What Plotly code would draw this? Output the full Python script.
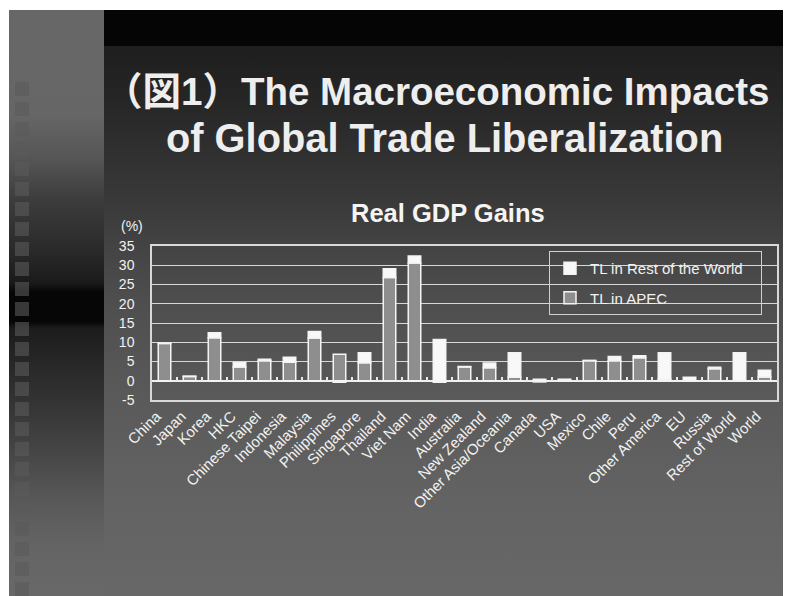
import base64
import plotly.graph_objects as go

# ---------------- data ----------------
categories = ["China", "Japan", "Korea", "HKC", "Chinese Taipei", "Indonesia",
              "Malaysia", "Philippines", "Singapore", "Thailand", "Viet Nam",
              "India", "Australia", "New Zealand", "Other Asia/Oceania",
              "Canada", "USA", "Mexico", "Chile", "Peru", "Other America",
              "EU", "Russia", "Rest of World", "World"]
tl_apec = [9.7, 1.1, 11.2, 3.6, 5.2, 4.8, 11.1, 6.9, 4.7, 26.8, 30.6, -0.4,
           3.6, 3.4, 0.9, 0.4, 0.1, 5.2, 5.2, 6.0, 0.4, -0.1, 3.1, -0.1, 1.0]
tl_row = [0.1, 0.1, 1.3, 1.1, 0.4, 1.3, 1.7, -0.4, 2.6, 2.3, 1.8, 10.7,
          0.1, 1.2, 6.4, -0.3, 0.3, 0.1, 1.1, 0.5, 6.9, 0.9, 0.4, 7.3, 1.7]
series_names = ["TL in APEC", "TL in Rest of the World"]
y_ticks = [-5, 0, 5, 10, 15, 20, 25, 30, 35]

# ---------------- slide background (decorative SVG) ----------------
W, H = 783, 588
ML, MR, MT, MB = 144, 14, 238, 196
PW, PH = W - ML - MR, H - MT - MB

squares = "".join(
    f"<rect x='7' y='{y}' width='14' height='14' fill='#5a5a5a' fill-opacity='0.6'/>"
    for y in range(74, 580, 20)
)
svg = f"""<svg xmlns='http://www.w3.org/2000/svg' width='{W}' height='{H}' viewBox='0 0 {W} {H}'>
<defs>
<linearGradient id='s' x1='0' y1='0' x2='0' y2='1'>
<stop offset='0' stop-color='#676767'/>
<stop offset='0.179' stop-color='#666666'/>
<stop offset='0.256' stop-color='#555555'/>
<stop offset='0.324' stop-color='#3c3c3c'/>
<stop offset='0.41' stop-color='#2a2a2a'/>
<stop offset='0.466' stop-color='#1a1a1a'/>
<stop offset='0.481' stop-color='#060606'/>
<stop offset='0.532' stop-color='#060606'/>
<stop offset='0.543' stop-color='#1c1c1c'/>
<stop offset='0.666' stop-color='#333333'/>
<stop offset='0.751' stop-color='#454545'/>
<stop offset='0.836' stop-color='#585858'/>
<stop offset='0.913' stop-color='#646464'/>
<stop offset='1' stop-color='#686868'/>
</linearGradient>
<linearGradient id='m' x1='0' y1='0' x2='0' y2='1'>
<stop offset='0' stop-color='#1e1e1e'/>
<stop offset='0.098' stop-color='#262626'/>
<stop offset='0.28' stop-color='#393939'/>
<stop offset='0.371' stop-color='#444444'/>
<stop offset='0.462' stop-color='#4e4e4e'/>
<stop offset='0.644' stop-color='#5a5a5a'/>
<stop offset='0.825' stop-color='#636363'/>
<stop offset='1' stop-color='#676767'/>
</linearGradient>
</defs>
<rect x='0' y='0' width='{W}' height='{H}' fill='#ffffff'/>
<rect x='1' y='2' width='95' height='{H-2}' fill='url(#s)'/>
{squares}
<rect x='96' y='2' width='{W-96}' height='36' fill='#050505'/>
<rect x='96' y='38' width='{W-96}' height='{H-38}' fill='url(#m)'/>
</svg>"""
svg_uri = "data:image/svg+xml;base64," + base64.b64encode(svg.encode()).decode()

FONT = "Liberation Sans, Arial, Noto Sans CJK JP, sans-serif"
TXT = "#f2f2f2"
PAD = "\u00a0" * 3  # invisible padding so the legend box is as wide as the original

fig = go.Figure()
fig.add_trace(go.Bar(
    x=categories, y=tl_apec, name=series_names[0], legendgroup="apec",
    legendrank=2,
    marker=dict(color="#8e8e8e", line=dict(color="#f4f4f4", width=1.5)),
))
fig.add_trace(go.Bar(
    x=categories, y=tl_row, name=series_names[1] + PAD, legendgroup="row",
    legendrank=1,
    marker=dict(color="#f8f8f8", line=dict(color="#f4f4f4", width=1.5)),
))
# helper trace for the category tick marks on the zero line
fig.add_trace(go.Bar(x=categories, y=[None] * len(categories), xaxis="x2",
                     showlegend=False, hoverinfo="skip"))


def px_to_paper_x(px):
    return (px - ML) / PW


def px_to_paper_y(py):
    return (H - MB - py) / PH


fig.update_layout(
    width=W, height=H,
    margin=dict(l=ML, r=MR, t=MT, b=MB, pad=0),
    paper_bgcolor="#666666",
    plot_bgcolor="rgba(0,0,0,0)",
    barmode="relative",
    bargap=0.5,
    font=dict(family=FONT, size=14, color=TXT),
    showlegend=True,
    legend=dict(
        x=px_to_paper_x(541), y=px_to_paper_y(243),
        xanchor="left", yanchor="top",
        bgcolor="rgba(0,0,0,0)", bordercolor="#d0d0d0", borderwidth=1,
        traceorder="grouped", tracegroupgap=7,
        font=dict(family=FONT, size=15, color=TXT),
    ),
    xaxis=dict(
        type="category", tickangle=-45,
        showgrid=False, showline=True, linecolor="#d8d8d8", linewidth=1.5,
        mirror=True, ticks="", tickfont=dict(size=15, color=TXT),
        ticklabelstandoff=0, ticklabelshift=-8,
    ),
    xaxis2=dict(
        type="category", overlaying="x", anchor="free", position=5 / 40,
        ticks="inside", tickson="boundaries", ticklen=4, tickwidth=1.5,
        tickcolor="#e8e8e8", showticklabels=False, showline=False,
        showgrid=False, matches="x",
    ),
    yaxis=dict(
        range=[-5, 35], tickvals=y_ticks, ticktext=[str(v) for v in y_ticks],
        showgrid=True, gridcolor="#d8d8d8", gridwidth=1.2,
        zeroline=True, zerolinecolor="#f0f0f0", zerolinewidth=1.5,
        showline=True, linecolor="#d8d8d8", linewidth=1.5, mirror=True,
        ticks="", tickfont=dict(size=14, color=TXT), ticklabelstandoff=13,
    ),
    images=[dict(
        source=svg_uri, xref="paper", yref="paper",
        x=px_to_paper_x(0), y=px_to_paper_y(0),
        sizex=W / PW, sizey=H / PH,
        xanchor="left", yanchor="top", sizing="stretch", layer="below",
    )],
    annotations=[
        dict(text="<b>（図1）The Macroeconomic Impacts</b>",
             xref="paper", yref="paper", x=px_to_paper_x(428), y=px_to_paper_y(83),
             xanchor="center", yanchor="middle", showarrow=False,
             font=dict(family=FONT, size=38.5, color="#eeeeee")),
        dict(text="<b>of Global Trade Liberalization</b>",
             xref="paper", yref="paper", x=px_to_paper_x(436), y=px_to_paper_y(130),
             xanchor="center", yanchor="middle", showarrow=False,
             font=dict(family=FONT, size=39.8, color="#eeeeee")),
        dict(text="<b>Real GDP Gains</b>",
             xref="paper", yref="paper", x=px_to_paper_x(440), y=px_to_paper_y(205),
             xanchor="center", yanchor="middle", showarrow=False,
             font=dict(family=FONT, size=25.5, color="#f4f4f4")),
        dict(text="(%)",
             xref="paper", yref="paper", x=px_to_paper_x(111), y=px_to_paper_y(218),
             xanchor="left", yanchor="middle", showarrow=False,
             font=dict(family=FONT, size=14, color=TXT)),
    ],
)

fig.write_html(
    "out.html",
    default_width=f"{W}px",
    default_height=f"{H}px",
    post_script="document.documentElement.style.overflow='hidden';"
                "document.body.style.overflow='hidden';",
)
